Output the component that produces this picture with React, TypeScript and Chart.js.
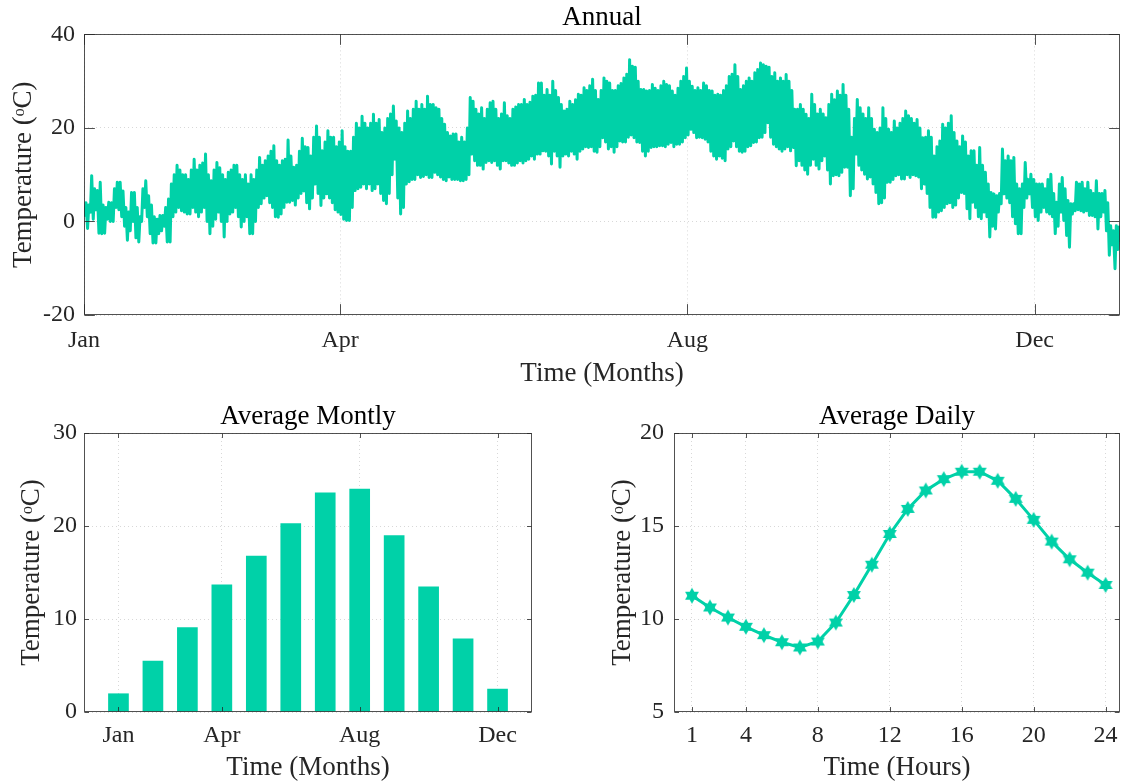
import React, { useEffect, useRef } from 'react';
import { Chart, registerables } from 'chart.js';
Chart.register(...registerables);

const TEAL = '#00d1a8';
const AXIS = '#262626';
const FONT = "'Liberation Serif', 'Times New Roman', 'DejaVu Serif', serif";

// ---------- Annual (daily max / min) ----------
const annualTickDays = [0, 90, 212, 334];
const annualTickLabels = ['Jan', 'Apr', 'Aug', 'Dec'];
const dailyMax = [
  4, 3.5, 9.8, 7, 6.6, 8.4, 3.5, 3, 4.1, 4,
  7, 8.4, 8.4, 6.5, 3, 2, 6.2, 6.2, 3, 1,
  7, 8.7, 5.5, 3.5, 1, 0.5, 1.3, 1.3, 3, 4.8,
  8, 10, 12, 11, 10, 10, 9, 11, 13.3, 11,
  12, 12.5, 14.4, 10, 8.7, 11, 12.6, 11.5, 10, 9,
  10.5, 11, 12, 12, 10, 9, 10, 8, 10, 9,
  11, 13.7, 12, 13, 14, 15, 16.2, 13, 12, 13,
  13.3, 17.4, 14, 11.6, 12, 15, 17.8, 16, 15.8, 14,
  18, 20.4, 18, 15.1, 17, 19.4, 18, 18, 16, 17,
  19.4, 16, 15, 15, 18, 21, 20, 22.5, 21, 20,
  21, 22.9, 21, 21.8, 19, 20, 22, 23, 24.7, 21.5,
  20, 19, 21, 23.6, 22, 24, 25.7, 24, 25, 24,
  26.8, 25, 25, 24.3, 24, 22, 20.8, 19, 18.3, 18.7,
  18.7, 17, 18, 17, 20, 26.5, 25.7, 24, 23, 24.3,
  22, 24, 25.4, 25.7, 24, 22, 23, 25.4, 22.6, 22,
  24, 24.5, 25, 25, 26.1, 25, 25.5, 26.8, 27, 29.6,
  29.6, 27, 28.2, 27, 30, 28, 26.5, 25, 23.6, 24,
  25.7, 25, 26, 27.2, 27, 28.6, 28, 29, 30.4, 28,
  26.1, 28, 30.7, 30, 29.6, 28, 28, 29, 29.5, 30.7,
  31.5, 34.6, 33.2, 33, 30, 28.2, 28.2, 27.9, 28, 29.3,
  28.5, 28, 29, 30, 29.3, 29, 27.9, 27, 28.5, 30,
  31, 32.8, 30, 28.9, 28, 28.6, 28, 29.6, 29, 28,
  27.9, 27, 27.2, 27, 28, 29, 31, 31.5, 33.5, 31,
  28.2, 29, 30, 30.7, 30, 31.8, 32.5, 33.9, 33.5, 33.2,
  33, 31, 31.8, 30, 30.7, 30, 31.4, 30, 28, 24,
  24, 25, 24, 22.9, 22, 27.2, 25, 23, 24, 23,
  22.2, 25, 27.2, 26, 27.9, 27, 29.3, 27, 24, 18,
  22, 26.1, 24.3, 23, 22, 24.3, 22, 19.7, 19, 20,
  24.3, 22, 19.7, 19, 21.5, 20, 21, 22, 23.6, 22.6,
  22, 21, 21.8, 20, 17.9, 18, 19.4, 18, 14, 16,
  17.2, 20.8, 20, 21, 22.6, 19, 17.2, 16, 18.3, 17,
  14, 15.1, 15.1, 12, 15.8, 12, 10.5, 8, 6.2, 5.9,
  5.5, 6, 15.5, 13, 14, 13, 13.7, 8, 7, 8,
  12.6, 9, 10.1, 9, 8, 8, 8, 7, 9, 10.1,
  6, 4.1, 8, 9.4, 7, 4.5, 3.8, 3.8, 8.4, 8,
  8.4, 7, 8.4, 6.6, 6, 8.7, 6, 6, 6.6, 4,
  -0.9, -2, -0.9, -1.2, -1.2,
];
const dailyMin = [
  1, -1.5, 2, 0.5, 2.5, -2.5, -2.6, -2.5, 0.5, 0,
  0, 3, 2.5, 1, -1, -4, -2, 0, -3.5, -4.4,
  0, 3, 1, -2.6, -4.6, -4.6, -2.6, -2, -1, -4.4,
  -4.4, 1, 2, 3, 2.3, 2, 1.6, 1.6, 3, 2,
  1, 2, 3, 0, -2.6, -1, 0.5, 2, 0, -3.3,
  0, 1.6, 2, 3, 1, -1.2, 0, 1, -2.6, -2.6,
  0, 3, 3.8, 5, 5.5, 4, 3, 1, 0.9, 1.6,
  3, 4.1, 4.1, 4.5, 3.5, 5, 6, 6.5, 4, 2.7,
  5, 8, 6, 3.4, 5, 5.9, 5, 4, 2.5, 2,
  1.5, 0.5, 0.2, 0.2, 3, 6.6, 7, 7.3, 8, 7,
  8, 6.6, 7, 8, 6, 4.5, 3.8, 6, 10, 13.3,
  5, 1.6, 3, 8, 8.5, 9, 9, 10, 9.4, 9.6,
  10, 9.4, 9.4, 10.5, 10, 9.5, 9, 8.7, 9.5, 9,
  9, 9, 8.7, 8.7, 9, 10, 14.4, 13, 12, 12,
  11.2, 12.6, 13, 12.6, 13, 12, 11.2, 13, 13, 12.5,
  12, 12, 12.5, 13, 12.5, 13, 13.3, 14, 13.3, 14.4,
  14.4, 15.1, 15, 14, 12.3, 15, 14, 11.6, 14, 14.4,
  14, 15, 14.4, 13.3, 15, 15.5, 16, 15.8, 16, 15,
  14.8, 16, 17.9, 17, 15.5, 16, 14.8, 16, 17.2, 17,
  17, 18, 18.5, 17.9, 17, 16.9, 15, 14, 15, 15.8,
  16, 16, 16.2, 16.2, 16, 16.5, 16.9, 16, 16.5, 16.5,
  17, 17.9, 18.5, 19.7, 19, 17.9, 18, 17.9, 17.6, 17,
  15, 14, 13.3, 14, 13.5, 13, 15.5, 16, 17.2, 16,
  15, 14.8, 15, 16, 16.2, 16.9, 17, 17.9, 18, 19,
  21.1, 18, 16.5, 16, 15.5, 15, 15.5, 16, 15.1, 15.8,
  11.9, 13, 12, 11, 10.1, 12, 13.3, 12, 11.2, 13,
  14, 11, 8, 9.8, 10, 9.8, 10.5, 11.6, 11.6, 5.5,
  7, 14.4, 12, 11, 10.1, 9.1, 9.5, 8, 6.2, 3.8,
  4, 5, 8.4, 8.4, 9, 9.8, 10, 9.1, 9.1, 10,
  9.4, 10, 9.8, 9.5, 7, 8, 6, 3, 0.9, 0.9,
  2, 2.3, 3, 3.8, 4, 3, 3.5, 5, 6.2, 6,
  2.7, 0.6, 4.1, 3, 1, 0.6, 2, 1, -3.3, -1,
  -1.6, 2, 3.8, 5.9, 5, 4, 1, -0.5, -2.6, -2.6,
  3, 5, 5.9, 3, 1, 0.2, 2, 3, 2, 1.6,
  1, -2.6, -1, 2, 0.2, -3, -5.5, 1.6, 2.3, 2.5,
  2.3, 2, 2.3, 1.3, 1.3, 1, -1.6, 1, 2, -2,
  -7.2, -5, -10.1, -6, -4.4,
];

// ---------- Average monthly ----------
const months = [1, 2, 3, 4, 5, 6, 7, 8, 9, 10, 11, 12];
const monthlyAvg = [2.0, 5.5, 9.1, 13.7, 16.8, 20.3, 23.6, 24.0, 19.0, 13.5, 7.9, 2.5];
const monthTickPos = [1, 4, 8, 12];
const monthTickLabels = ['Jan', 'Apr', 'Aug', 'Dec'];

// ---------- Average daily ----------
const hours = [1, 2, 3, 4, 5, 6, 7, 8, 9, 10, 11, 12, 13, 14, 15, 16, 17, 18, 19, 20, 21, 22, 23, 24];
const hourlyAvg = [11.25, 10.62, 10.08, 9.58, 9.13, 8.75, 8.47, 8.79, 9.81, 11.29, 12.92, 14.57,
  15.92, 16.91, 17.52, 17.92, 17.92, 17.43, 16.46, 15.33, 14.16, 13.21, 12.49, 11.83];
const hourTicks = [1, 4, 8, 12, 16, 20, 24];

const boxPlugin = {
  id: 'matlabBox',
  afterDatasetsDraw(chart: any) {
    const { ctx, chartArea: a, scales } = chart;
    const len = 0.01 * Math.max(a.right - a.left, a.bottom - a.top);
    ctx.save();
    ctx.strokeStyle = AXIS;
    ctx.globalAlpha = 0.8;
    ctx.lineWidth = 1;
    const L = Math.round(a.left) + 0.5, R = Math.round(a.right) - 0.5;
    const T = Math.round(a.top) + 0.5, B = Math.round(a.bottom) - 0.5;
    ctx.strokeRect(L, T, R - L, B - T);
    ctx.beginPath();
    for (const t of scales.x.ticks) {
      const p = Math.round(scales.x.getPixelForValue(t.value)) + 0.5;
      ctx.moveTo(p, B); ctx.lineTo(p, B - len);
      ctx.moveTo(p, T); ctx.lineTo(p, T + len);
    }
    for (const t of scales.y.ticks) {
      const p = Math.round(scales.y.getPixelForValue(t.value)) + 0.5;
      ctx.moveTo(L, p); ctx.lineTo(L + len, p);
      ctx.moveTo(R, p); ctx.lineTo(R - len, p);
    }
    ctx.stroke();
    ctx.restore();
  },
};

function makeHexagram(r: number, color: string) {
  const s = Math.ceil(2 * r + 2);
  const c = document.createElement('canvas');
  c.width = s; c.height = s;
  const g = c.getContext('2d')!;
  g.fillStyle = color;
  const cx = s / 2, cy = s / 2;
  for (const off of [-90, 90]) {
    g.beginPath();
    for (let k = 0; k < 3; k++) {
      const ang = ((off + 120 * k) * Math.PI) / 180;
      const x = cx + r * Math.cos(ang), y = cy + r * Math.sin(ang);
      if (k === 0) g.moveTo(x, y); else g.lineTo(x, y);
    }
    g.closePath();
    g.fill();
  }
  return c;
}

function gridOpts() {
  return {
    color: 'rgba(38,38,38,0.18)',
    lineWidth: 1,
    drawTicks: false,
  };
}
const borderOpts = { display: false, dash: [1, 3] };
const TICK_SIZE = 24;
const LABEL_SIZE = 27;

function useChart(ref: React.RefObject<HTMLCanvasElement>, build: () => any) {
  useEffect(() => {
    if (!ref.current) return;
    const chart = new Chart(ref.current, build());
    return () => chart.destroy();
  }, []);
}

function axisTitle(text: string, padding: any) {
  return { display: true, text, color: AXIS, font: { family: FONT, size: LABEL_SIZE }, padding };
}

function plotTitle(text: string, padding: any) {
  return { display: true, text, color: '#000', fullSize: false,
    font: { family: FONT, size: LABEL_SIZE, weight: 'normal' }, padding };
}

function fixX(h: number) {
  return (s: any) => { s.height = h; s.paddingLeft = 0; s.paddingRight = 0; };
}

export default function App() {
  const r1 = useRef<HTMLCanvasElement>(null);
  const r2 = useRef<HTMLCanvasElement>(null);
  const r3 = useRef<HTMLCanvasElement>(null);

  useChart(r1, () => {
    const pts: { x: number; y: number }[] = [];
    for (let d = 0; d < dailyMax.length; d++) {
      pts.push({ x: d + 0.25, y: dailyMin[d] });
      pts.push({ x: d + 0.7, y: dailyMax[d] });
    }
    return {
      type: 'line',
      data: {
        datasets: [{
          data: pts, borderColor: TEAL, borderWidth: 3, pointRadius: 0,
          tension: 0, fill: false, borderJoinStyle: 'round',
        }],
      },
      options: {
        responsive: false, animation: false, parsing: false, normalized: true,
        layout: { autoPadding: false, padding: { left: 0, right: 1, top: 0, bottom: 0 } },
        plugins: {
          legend: { display: false }, tooltip: { enabled: false },
          title: plotTitle('Annual', { top: 2, bottom: 0 }),
        },
        scales: {
          x: {
            type: 'linear', min: 0, max: 364,
            afterBuildTicks: (s: any) => { s.ticks = annualTickDays.map((v) => ({ value: v })); },
            afterFit: fixX(75),
            ticks: { autoSkip: false, maxRotation: 0, padding: 11, color: AXIS,
              font: { family: FONT, size: TICK_SIZE }, callback: (_v: any, i: number) => annualTickLabels[i] },
            grid: gridOpts(), border: borderOpts,
            title: axisTitle('Time (Months)', { top: 0, bottom: 0 }),
          },
          y: {
            min: -20, max: 40,
            ticks: { stepSize: 20, padding: 9, color: AXIS, font: { family: FONT, size: TICK_SIZE } },
            afterFit: (s: any) => { s.width = 84; },
            grid: gridOpts(), border: borderOpts,
            title: axisTitle('Temperature (ᵒC)', { top: 8, bottom: 0 }),
          },
        },
      },
      plugins: [boxPlugin],
    };
  });

  useChart(r2, () => ({
    type: 'bar',
    data: {
      datasets: [{
        data: months.map((m, i) => ({ x: m, y: monthlyAvg[i] })),
        backgroundColor: TEAL, borderWidth: 0,
        barPercentage: 0.6, categoryPercentage: 1,
      }],
    },
    options: {
      responsive: false, animation: false,
      layout: { autoPadding: false, padding: { left: 0, right: 28, top: 0, bottom: 0 } },
      plugins: {
        legend: { display: false }, tooltip: { enabled: false },
        title: plotTitle('Average Montly', { top: 10.5, bottom: 0.1 }),
      },
      scales: {
        x: {
          type: 'linear', min: 0, max: 13, offset: false,
          afterBuildTicks: (s: any) => { s.ticks = monthTickPos.map((v) => ({ value: v })); },
          afterFit: fixX(72),
          ticks: { autoSkip: false, maxRotation: 0, padding: 9, color: AXIS,
            font: { family: FONT, size: TICK_SIZE }, callback: (_v: any, i: number) => monthTickLabels[i] },
          grid: { ...gridOpts(), offset: false }, border: borderOpts,
          title: axisTitle('Time (Months)', { top: 0, bottom: 0 }),
        },
        y: {
          min: 0, max: 30,
          ticks: { stepSize: 10, padding: 7, color: AXIS, font: { family: FONT, size: TICK_SIZE } },
          afterFit: (s: any) => { s.width = 84; },
          grid: gridOpts(), border: borderOpts,
          title: axisTitle('Temperature (ᵒC)', { top: 16, bottom: 0 }),
        },
      },
    },
    plugins: [boxPlugin],
  }));

  useChart(r3, () => {
    const star = makeHexagram(8, TEAL);
    return {
      type: 'line',
      data: {
        datasets: [{
          data: hours.map((h, i) => ({ x: h, y: hourlyAvg[i] })),
          borderColor: TEAL, borderWidth: 3, pointStyle: star, pointRadius: 8,
          tension: 0, fill: false,
        }],
      },
      options: {
        responsive: false, animation: false,
        layout: { autoPadding: false, padding: { left: 0, right: 1, top: 0, bottom: 0 } },
        plugins: {
          legend: { display: false }, tooltip: { enabled: false },
          title: plotTitle('Average Daily', { top: 10.5, bottom: 0.1 }),
        },
        scales: {
          x: {
            type: 'linear', min: 0, max: 24.8,
            afterBuildTicks: (s: any) => { s.ticks = hourTicks.map((v) => ({ value: v })); },
            afterFit: fixX(72),
            ticks: { autoSkip: false, maxRotation: 0, padding: 9, color: AXIS,
              font: { family: FONT, size: TICK_SIZE } },
            grid: gridOpts(), border: borderOpts,
            title: axisTitle('Time (Hours)', { top: 0, bottom: 0 }),
          },
          y: {
            min: 5, max: 20,
            ticks: { stepSize: 5, padding: 10, color: AXIS, font: { family: FONT, size: TICK_SIZE } },
            afterFit: (s: any) => { s.width = 114; },
            grid: gridOpts(), border: borderOpts,
            title: axisTitle('Temperature (ᵒC)', { top: 47, bottom: 0 }),
          },
        },
      },
      plugins: [boxPlugin],
    };
  });

  return (
    <div style={{ position: 'absolute', left: 0, top: 0, width: 1121, height: 784, background: '#fff' }}>
      <canvas ref={r1} width={1121} height={390} style={{ position: 'absolute', left: 0, top: 0 }} />
      <canvas ref={r2} width={560} height={394} style={{ position: 'absolute', left: 0, top: 390 }} />
      <canvas ref={r3} width={561} height={394} style={{ position: 'absolute', left: 560, top: 390 }} />
    </div>
  );
}
